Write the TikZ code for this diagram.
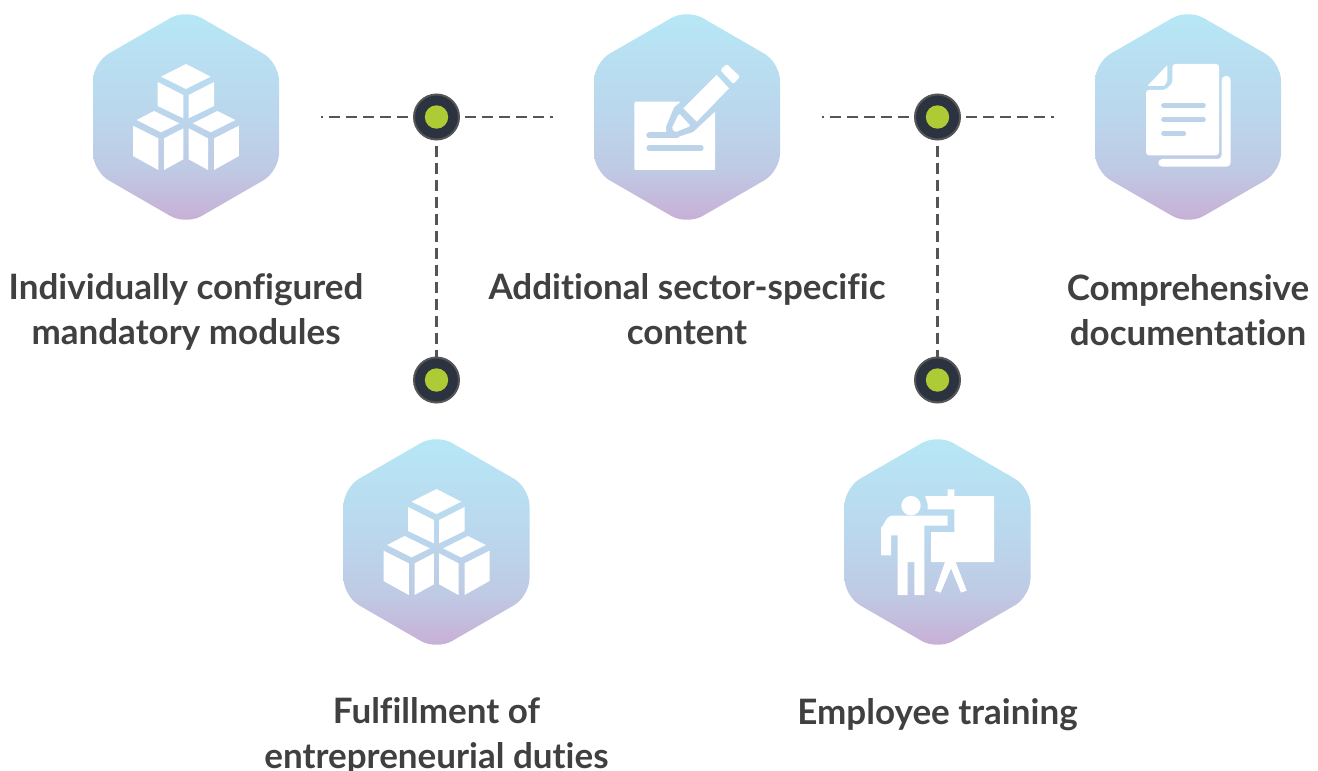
\documentclass[tikz,border=0pt]{standalone}
\usepackage{fontspec}
\setmainfont{Lato}[Ligatures={NoCommon}]
\usetikzlibrary{calc}
\definecolor{hextop}{HTML}{B6E8F6}
\definecolor{hexmid}{HTML}{BBD6EC}
\definecolor{hexlow}{HTML}{BFCAE4}
\definecolor{hexbot}{HTML}{C9ADD5}
\definecolor{band}{HTML}{BDD3EA}
\definecolor{ink}{HTML}{404040}
\definecolor{ring}{HTML}{555555}
\definecolor{dotfill}{HTML}{2B3240}
\definecolor{dotgreen}{HTML}{AECB36}
\pgfdeclareverticalshading{hexgrad}{100bp}{color(0bp)=(hexbot); color(25bp)=(hexbot); color(38bp)=(hexlow); color(50bp)=(hexmid); color(75bp)=(hextop); color(100bp)=(hextop)}
\tikzset{
  x=1pt,y=-1pt,
  hexshape/.style={shading=hexgrad,draw=none,rounded corners=18pt},
  icon/.style={x=.33333pt,y=-.33333pt,fill=white,draw=none},
  dotnode/.style={circle,draw=ring,line width=2pt,fill=dotfill,minimum size=45pt,inner sep=0pt,
    path picture={\fill[dotgreen] (path picture bounding box.center) circle[radius=11.7pt];}},
  dashline/.style={draw=ring,line width=2.2pt,dash pattern=on 11pt off 6pt,dash phase=12pt},
  label/.style={text=ink,font=\fontsize{35}{45}\selectfont\bfseries,align=center,inner sep=0pt},
}
\newcommand{\hexa}[2]{%
  \path[hexshape,shift={(#1,#2)}] (0,-108) -- (93,-54.3) -- (93,54.3) -- (0,108) -- (-93,54.3) -- (-93,-54.3) -- cycle;}
\newcommand{\cubes}[2]{%
  \begin{scope}[shift={(#1,#2)}]
  \fill[icon] (243,230)--(318,192)--(392,230)--(318,267)--cycle;
  \fill[icon] (233,246)--(310,285)--(310,355)--(233,318)--cycle;
  \fill[icon] (402,246)--(326,285)--(326,355)--(402,318)--cycle;
  \fill[icon] (170,360)--(222,333)--(298,370)--(243,397)--cycle;
  \fill[icon] (159,377)--(235,415)--(235,510)--(159,468)--cycle;
  \fill[icon] (252,415)--(310,385)--(310,478)--(252,510)--cycle;
  \fill[icon] (338,370)--(412,333)--(466,360)--(392,397)--cycle;
  \fill[icon] (326,385)--(384,415)--(384,510)--(326,478)--cycle;
  \fill[icon] (402,415)--(477,377)--(477,468)--(402,510)--cycle;
  \end{scope}}
\begin{document}
\begin{tikzpicture}
\useasboundingbox (0,0) rectangle (1318,771);
% hexagons
\hexa{186}{117}
\hexa{687}{117}
\hexa{1188}{117}
\hexa{436.5}{542}
\hexa{937.5}{542}
% cubes
\cubes{80}{0}
\cubes{330.5}{425}
% pencil
\begin{scope}[shift={(580,0)}]
  \fill[icon,rounded corners=1pt] (163,305)--(302,305)--(282,322)--(258,380)--(258,396)--(285,414)--(340,396)--(405,335)--(405,510)--(163,510)--cycle;
  \draw[band,x=.33333pt,y=-.33333pt,line width=6pt,line cap=round] (208,406)--(290,406);
  \draw[band,x=.33333pt,y=-.33333pt,line width=6pt,line cap=round] (208,444)--(362,444);
  \fill[icon] (410,225)--(447,265)--(350,365)--(310,325)--cycle;
  \fill[icon,rounded corners=1.5pt] (297,340)--(332,378)--(285,397)--(275,385)--cycle;
  \fill[icon,rounded corners=1.5pt] (421,210)--(440,192)--(480,230)--(460,252)--cycle;
\end{scope}
% documents
\begin{scope}[shift={(1085,0)}]
  \fill[icon,rounded corners=4pt] (410,228)--(437,228)--(437,500)--(220,500)--(220,477)--(410,477)--cycle;
  \fill[icon,rounded corners=3pt] (262,192)--(402,192)--(402,466)--(183,466)--(183,270)--(240,270)--(262,250)--cycle;
  \fill[icon,rounded corners=1pt] (247,195)--(247,243)--(238,258)--(187,258)--cycle;
  \draw[band,x=.33333pt,y=-.33333pt,line width=5pt,line cap=round] (236,316)--(355,316);
  \draw[band,x=.33333pt,y=-.33333pt,line width=5pt,line cap=round] (236,359)--(355,359);
  \draw[band,x=.33333pt,y=-.33333pt,line width=5pt,line cap=round] (236,401)--(296,401);
\end{scope}
% presenter
\begin{scope}[shift={(835,430)}]
  \fill[icon] (228,227) circle[radius=9.7pt];
  \fill[icon] (270,198)--(338,198)--(338,178)--(358,178)--(358,198)--(477,198)--(477,396)--(288,396)--(288,306)--(358,306)--(358,238)--(278,238)--(278,222)--cycle;
  \fill[icon] (170,257)--(338,257)--(338,287)--(268,287)--(268,495)--(238,495)--(238,396)--(218,396)--(218,495)--(188,495)--(188,316)--(168,316)--(168,376)--(138,376)--(138,289) to[out=-90,in=180] (170,257)--cycle;
  \fill[icon] (330,396)--(300,482)--(317,488)--(348,415)--(378,488)--(395,482)--(362,396)--cycle;
\end{scope}
% dots
\coordinate (a1) at (320.5,117);
\coordinate (a2) at (552.5,117);
\coordinate (b1) at (821.5,117);
\coordinate (b2) at (1053.5,117);
\node[dotnode] (d1) at (436.5,117) {};
\node[dotnode] (d2) at (436.5,380) {};
\node[dotnode] (d3) at (937.5,117) {};
\node[dotnode] (d4) at (937.5,380) {};
\draw[dashline] (d1.west) -- (a1);
\draw[dashline] (d1.east) -- (a2);
\draw[dashline,xshift=-.5pt] (d1.south) -- (d2.north);
\draw[dashline] (d3.west) -- (b1);
\draw[dashline] (d3.east) -- (b2);
\draw[dashline] (d3.south) -- (d4.north);
% labels
\node[label] (t1) at (186,312) {Individually configured\\mandatory modules};
\node[label] (t2) at (687,309) {Additional sector-specific\\content};
\node[label] (t3) at (1188,310) {Comprehensive\\documentation};
\node[label] (t4) at (436.5,736) {Fulfillment of\\entrepreneurial duties};
\node[label] (t5) at (937.5,715) {Employee training};
\end{tikzpicture}
\end{document}
